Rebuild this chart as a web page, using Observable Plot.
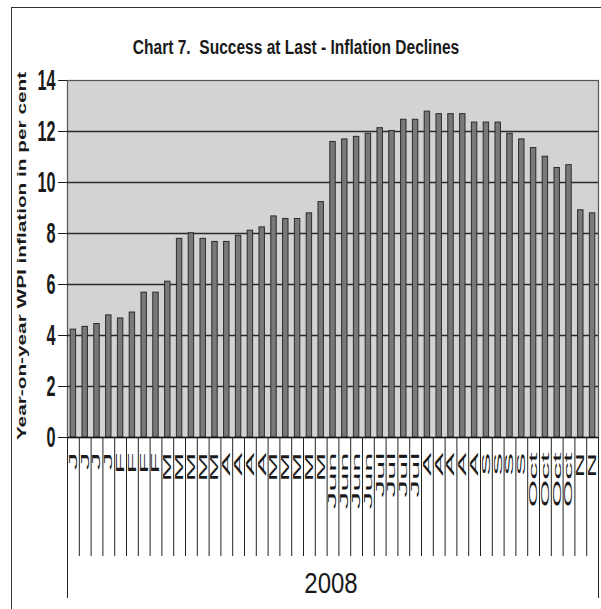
<!DOCTYPE html>
<html><head><meta charset="utf-8">
<script src="https://cdn.jsdelivr.net/npm/d3@7"></script>
<script src="https://cdn.jsdelivr.net/npm/@observablehq/plot@0.6"></script>
<style>
body{margin:0;background:#fff;}
#wrap{position:relative;width:601px;height:609px;overflow:hidden;}
#border{position:absolute;left:11px;top:7px;width:620px;height:640px;border:1.5px solid #333;}
#wrap svg{position:absolute;left:0;top:0;}
</style></head><body><div id="wrap"><div id="border"></div></div>
<script>
const title = "Chart 7.\u00a0 Success at Last - Inflation Declines";
const yLabel = "Year-on-year WPI inflation in per cent";
const year = "2008";
const weekMonths = ["J","J","J","J","F","F","F","F","M","M","M","M","M","A","A","A","A","M","M","M","M","M","Jun","Jun","Jun","Jun","Jul","Jul","Jul","Jul","A","A","A","A","A","S","S","S","S","Oct","Oct","Oct","Oct","N","N"];
const inflation = [4.23, 4.34, 4.45, 4.79, 4.67, 4.90, 5.68, 5.68, 6.11, 7.79, 8.01, 7.79, 7.67, 7.67, 7.91, 8.11, 8.24, 8.67, 8.57, 8.57, 8.79, 9.23, 11.59, 11.69, 11.79, 11.91, 12.13, 12.02, 12.46, 12.46, 12.78, 12.68, 12.68, 12.68, 12.35, 12.35, 12.35, 11.91, 11.69, 11.35, 11.01, 10.57, 10.68, 8.91, 8.79];
const yTicks = [0, 2, 4, 6, 8, 10, 12, 14];

const data = inflation.map((v, i) => ({i, v, m: weekMonths[i]}));
const n = data.length;

const plot = Plot.plot({
  width: 601, height: 609,
  marginLeft: 67, marginRight: 3, marginTop: 80, marginBottom: 172,
  style: {fontFamily: "'Liberation Sans', Arial, sans-serif", background: "transparent", color: "#1a1a1a"},
  x: {domain: [0, n]},
  y: {domain: [0, 14]},
  marks: [
    Plot.frame({fill: "#d3d3d5", stroke: "#555", strokeWidth: 1.2}),
    Plot.ruleY(yTicks.filter(t => t > 0 && t < 14), {stroke: "#2a2a2a", strokeWidth: 1.3}),
    Plot.rectY(data, {x1: d => d.i + 0.27, x2: d => d.i + 0.73, y: "v", fill: "#79797b", stroke: "#2b2b2b", strokeWidth: 1}),
    Plot.ruleY([0], {stroke: "#111", strokeWidth: 1.5}),
    Plot.axisY({ticks: yTicks, tickSize: 9, tickPadding: 3, fontSize: 15, fontWeight: "bold", label: null}),
    Plot.axisX({ticks: d3.range(1, n), tickSize: 119, tickFormat: () => "", label: null, stroke: "#222"}),
    Plot.axisX({ticks: [0, n], tickSize: 161, tickFormat: () => "", label: null, stroke: "#222"}),
    Plot.axisX({ticks: d3.range(n).map(i => i + 0.5), tickSize: 0, tickPadding: 15, tickRotate: -90,
      tickFormat: t => weekMonths[Math.floor(t)], fontSize: 11, label: null}),
    Plot.text([yLabel], {frameAnchor: "left", dx: -46, dy: -3, rotate: -90, textAnchor: "middle", lineAnchor: "middle", fontSize: 13.5, fontWeight: "bold"}),
    Plot.text([title], {frameAnchor: "top", dx: -37, dy: -33, lineAnchor: "middle", fontSize: 21, fontWeight: "bold"}),
    Plot.text([year], {frameAnchor: "bottom", dx: -2, dy: 146, lineAnchor: "middle", fontSize: 24})
  ]
});
document.getElementById("wrap").appendChild(plot);

function scaleText(t, sx, sy) {
  for (const a of ["x", "y"]) {
    const v = t.getAttribute(a);
    if (v != null && !/em$/.test(v)) t.removeAttribute(a);
  }
  const tr = t.getAttribute("transform") || "";
  t.setAttribute("transform", `${tr} scale(${sx},${sy})`);
}
function squash(selector, sx, sy) {
  plot.querySelectorAll(selector).forEach(t => scaleText(t, sx, sy));
}
function squashByText(str, sx, sy) {
  plot.querySelectorAll("text").forEach(t => { if (t.textContent === str) scaleText(t, sx, sy); });
}
squash('g[aria-label="y-axis tick label"] text', 1.08, 2.0);
squash('g[aria-label="x-axis tick label"] text', 3.2, 0.95);
squashByText(yLabel, 1.54, 1);
squashByText(title, 0.74, 1);
squashByText(year, 1, 1.25);
</script>
</body></html>
